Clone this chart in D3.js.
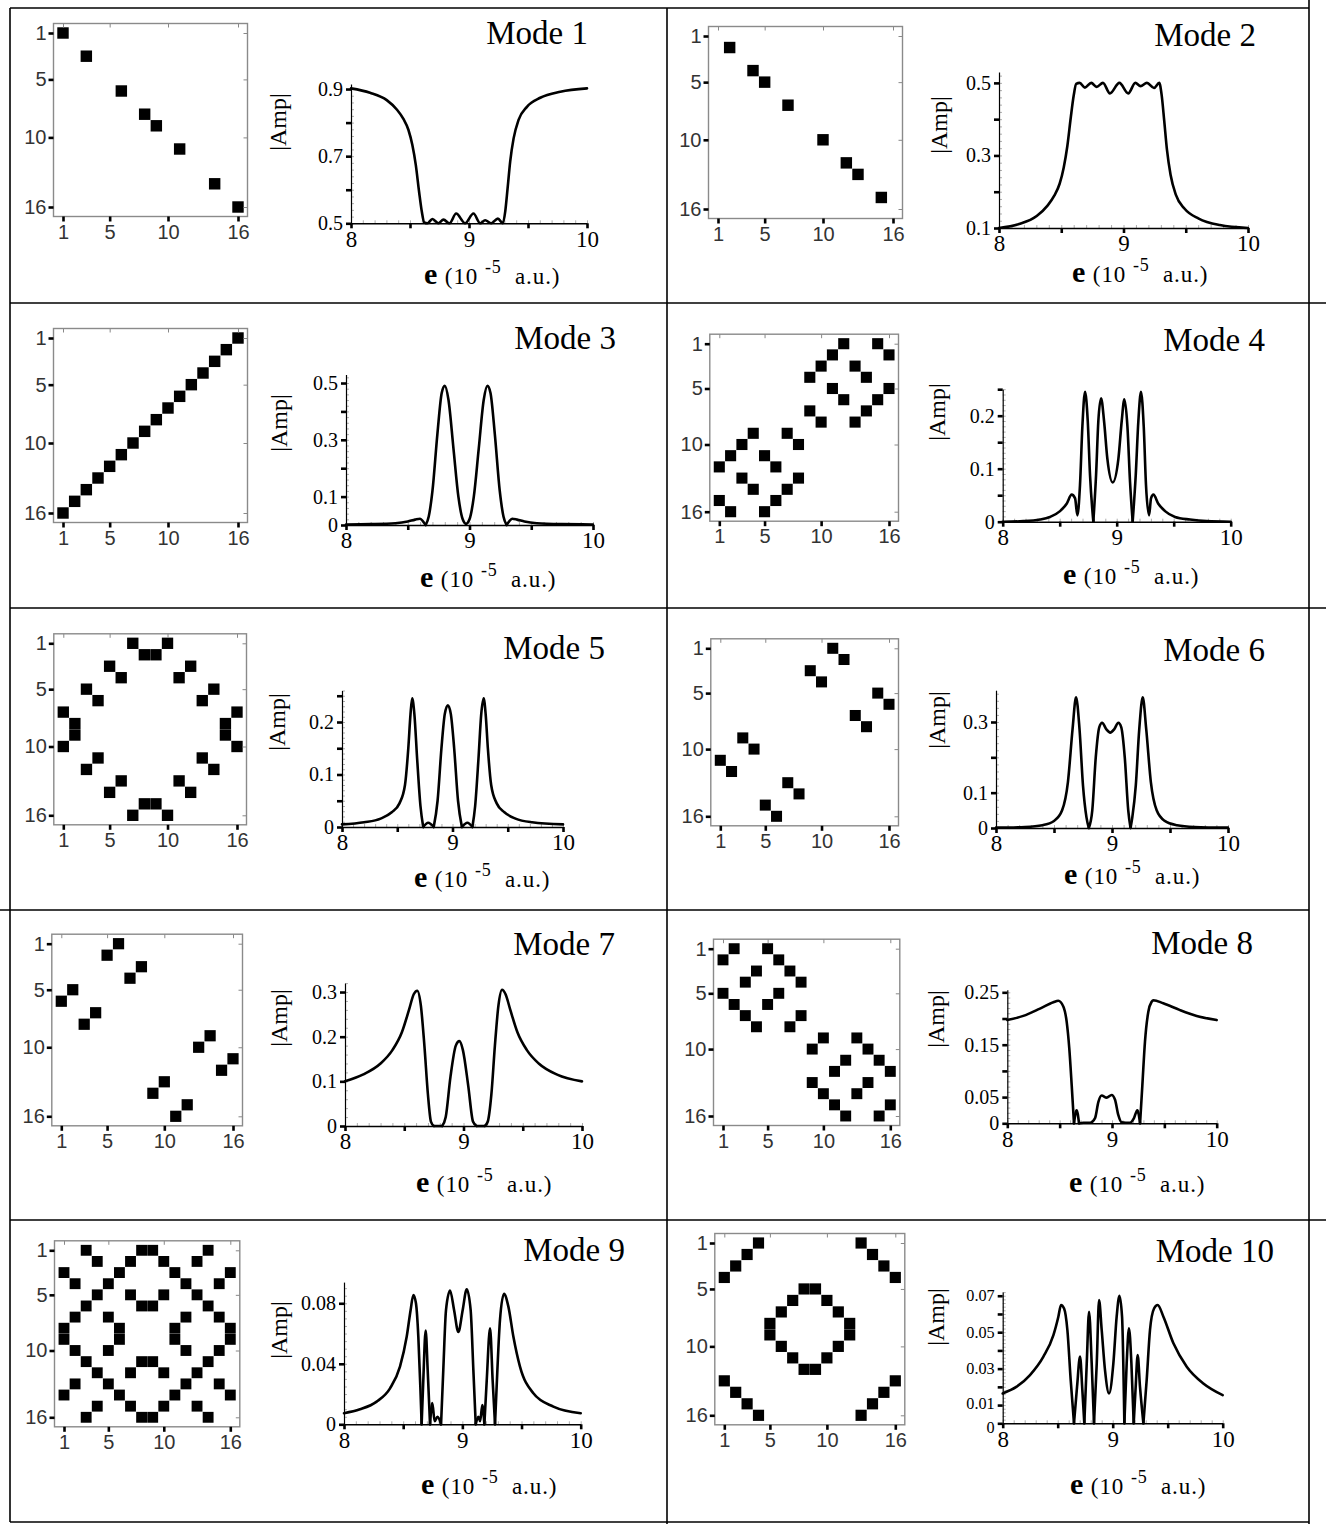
<!DOCTYPE html>
<html>
<head>
<meta charset="utf-8">
<script src="https://cdn.jsdelivr.net/npm/d3@7"></script>
<style>
    body { margin: 0; background: #fff; }
    svg { display: block; }
</style>
</head>
<body>
<script>
// ---- data: occupied sites [column, row] of each 16x16 pattern
var sites1 = [[1,1],[3,3],[6,6],[8,8],[9,9],[11,11],[14,14],[16,16]]
var sites2 = [[2,2],[4,4],[5,5],[7,7],[10,10],[12,12],[13,13],[15,15]]
var sites3 = [[1,16],[2,15],[3,14],[4,13],[5,12],[6,11],[7,10],[8,9],[9,8],[10,7],[11,6],[12,5],[13,4],[14,3],[15,2],[16,1]]
var sites4 = [[12,1],[15,1],[11,2],[16,2],[10,3],[13,3],[9,4],[14,4],[11,5],[16,5],[12,6],[15,6],[9,7],[14,7],[10,8],[13,8],
    [4,9],[7,9],[3,10],[8,10],[2,11],[5,11],[1,12],[6,12],[3,13],[8,13],[4,14],[7,14],[1,15],[6,15],[2,16],[5,16]]
var sites5 = [[7,1],[10,1],[8,2],[9,2],[5,3],[12,3],[6,4],[11,4],[3,5],[14,5],[4,6],[13,6],[1,7],[16,7],[2,8],[15,8],
    [2,9],[15,9],[1,10],[16,10],[4,11],[13,11],[3,12],[14,12],[6,13],[11,13],[5,14],[12,14],[8,15],[9,15],[7,16],[10,16]]
var sites6 = [[11,1],[12,2],[9,3],[10,4],[15,5],[16,6],[13,7],[14,8],[3,9],[4,10],[1,11],[2,12],[7,13],[8,14],[5,15],[6,16]]
var sites7 = [[6,1],[5,2],[8,3],[7,4],[2,5],[1,6],[4,7],[3,8],[14,9],[13,10],[16,11],[15,12],[10,13],[9,14],[12,15],[11,16]]
var sites8 = [[2,1],[5,1],[1,2],[6,2],[4,3],[7,3],[3,4],[8,4],[1,5],[6,5],[2,6],[5,6],[3,7],[8,7],[4,8],[7,8],
    [10,9],[13,9],[9,10],[14,10],[12,11],[15,11],[11,12],[16,12],[9,13],[14,13],[10,14],[13,14],[11,15],[16,15],[12,16],[15,16]]
var sites9 = [[3,1],[8,1],[9,1],[14,1],[4,2],[7,2],[10,2],[13,2],[1,3],[6,3],[11,3],[16,3],[2,4],[5,4],[12,4],[15,4],
    [4,5],[7,5],[10,5],[13,5],[3,6],[8,6],[9,6],[14,6],[2,7],[5,7],[12,7],[15,7],[1,8],[6,8],[11,8],[16,8],
    [1,9],[6,9],[11,9],[16,9],[2,10],[5,10],[12,10],[15,10],[3,11],[8,11],[9,11],[14,11],[4,12],[7,12],[10,12],[13,12],
    [2,13],[5,13],[12,13],[15,13],[1,14],[6,14],[11,14],[16,14],[4,15],[7,15],[10,15],[13,15],[3,16],[8,16],[9,16],[14,16]]
var sites10 = [[4,1],[3,2],[2,3],[1,4],[13,1],[14,2],[15,3],[16,4],[8,5],[9,5],[7,6],[10,6],[6,7],[11,7],[5,8],[12,8],
    [5,9],[12,9],[6,10],[11,10],[7,11],[10,11],[8,12],[9,12],[1,13],[2,14],[3,15],[4,16],[16,13],[15,14],[14,15],[13,16]]

var siteTicks = [1, 5, 10, 16]

// ---- data: |Amp| against e (10^-5 a.u.)
var curve1 = [[8.000,0.902],[8.161,0.889],[8.303,0.867],[8.388,0.839],[8.444,0.811],[8.487,0.778],[8.520,0.733],[8.549,0.674],
    [8.577,0.594],[8.600,0.535],[8.620,0.503],[8.648,0.500],[8.690,0.513],[8.741,0.500],[8.784,0.511],[8.835,0.500],[8.891,0.529],
    [8.967,0.500],[9.038,0.529],[9.095,0.500],[9.137,0.509],[9.188,0.500],[9.245,0.514],[9.287,0.500],[9.307,0.535],[9.327,0.604],
    [9.349,0.684],[9.378,0.753],[9.420,0.808],[9.491,0.847],[9.604,0.874],[9.774,0.892],[10.000,0.902]]
var curve2 = [[8.000,0.100],[8.161,0.111],[8.303,0.133],[8.388,0.161],[8.444,0.189],[8.487,0.222],[8.520,0.267],[8.549,0.326],
    [8.577,0.406],[8.600,0.465],[8.620,0.497],[8.648,0.500],[8.690,0.487],[8.741,0.500],[8.784,0.489],[8.835,0.500],[8.891,0.471],
    [8.967,0.500],[9.038,0.471],[9.095,0.500],[9.137,0.491],[9.188,0.500],[9.245,0.486],[9.287,0.500],[9.307,0.465],[9.327,0.396],
    [9.349,0.316],[9.378,0.247],[9.420,0.192],[9.491,0.153],[9.604,0.126],[9.774,0.108],[10.000,0.100]]
var curve3 = [[8.00,0.002],[8.20,0.003],[8.40,0.006],[8.50,0.012],[8.56,0.019],[8.60,0.022],[8.625,0.012],[8.645,0.000],
    [8.67,0.030],[8.70,0.120],[8.74,0.320],[8.775,0.465],[8.80,0.490],[8.83,0.440],[8.87,0.270],[8.91,0.100],[8.945,0.020],
    [8.972,0.004],[9.00,0.020],[9.035,0.100],[9.075,0.270],[9.115,0.440],[9.145,0.490],[9.17,0.465],[9.205,0.320],[9.245,0.120],
    [9.275,0.030],[9.30,0.000],[9.32,0.012],[9.345,0.022],[9.385,0.019],[9.445,0.012],[9.545,0.006],[9.745,0.003],[10.00,0.002]]
var curve4 = [[8.000,0.000],[8.181,0.001],[8.327,0.004],[8.415,0.009],[8.503,0.020],[8.561,0.034],[8.605,0.051],[8.635,0.044],
    [8.655,0.012],[8.678,0.069],[8.699,0.180],[8.722,0.245],[8.746,0.190],[8.766,0.088],[8.795,0.000],[8.819,0.088],[8.839,0.190],
    [8.863,0.233],[8.889,0.190],[8.918,0.119],[8.965,0.074],[9.015,0.119],[9.044,0.190],[9.067,0.231],[9.094,0.180],[9.117,0.075],
    [9.140,0.000],[9.167,0.088],[9.190,0.190],[9.213,0.245],[9.237,0.180],[9.257,0.069],[9.284,0.012],[9.301,0.044],[9.322,0.051],
    [9.365,0.034],[9.424,0.020],[9.512,0.009],[9.643,0.004],[9.789,0.001],[10.000,0.000]]
var curve5 = [[8.00,0.005],[8.20,0.009],[8.35,0.016],[8.45,0.028],[8.52,0.045],[8.57,0.080],[8.60,0.150],[8.62,0.215],
    [8.635,0.245],[8.655,0.215],[8.68,0.130],[8.71,0.040],[8.735,0.000],[8.78,0.008],[8.83,0.000],[8.865,0.050],[8.90,0.150],
    [8.93,0.215],[8.958,0.232],[8.985,0.215],[9.015,0.150],[9.05,0.050],[9.085,0.000],[9.135,0.008],[9.18,0.000],[9.205,0.040],
    [9.235,0.130],[9.26,0.215],[9.282,0.245],[9.30,0.215],[9.32,0.150],[9.35,0.080],[9.40,0.045],[9.47,0.028],[9.57,0.016],
    [9.72,0.009],[10.00,0.005]]
var curve6 = [[8.00,0.001],[8.25,0.003],[8.40,0.008],[8.50,0.020],[8.57,0.050],[8.62,0.130],[8.66,0.280],[8.69,0.370],
    [8.72,0.280],[8.75,0.120],[8.78,0.030],[8.80,0.000],[8.83,0.050],[8.86,0.200],[8.89,0.285],[8.915,0.298],[8.95,0.280],
    [8.985,0.270],[9.02,0.280],[9.055,0.298],[9.08,0.285],[9.11,0.200],[9.14,0.050],[9.16,0.000],[9.175,0.030],[9.205,0.120],
    [9.235,0.280],[9.265,0.370],[9.295,0.280],[9.335,0.130],[9.385,0.050],[9.455,0.020],[9.56,0.008],[9.71,0.003],[10.00,0.001]]
var curve7 = [[8.00,0.100],[8.15,0.115],[8.30,0.140],[8.40,0.170],[8.48,0.210],[8.54,0.260],[8.58,0.295],[8.61,0.303],
    [8.64,0.270],[8.67,0.180],[8.70,0.070],[8.725,0.010],[8.75,0.000],[8.82,0.000],[8.85,0.020],[8.89,0.110],[8.935,0.180],
    [8.965,0.190],[8.995,0.170],[9.04,0.090],[9.08,0.010],[9.11,0.000],[9.18,0.000],[9.205,0.010],[9.235,0.070],[9.265,0.180],
    [9.295,0.270],[9.325,0.305],[9.355,0.295],[9.395,0.260],[9.455,0.210],[9.535,0.170],[9.635,0.140],[9.79,0.115],[10.00,0.100]]
var curve8 = [[8.000,0.197],[8.153,0.205],[8.312,0.219],[8.440,0.231],[8.487,0.234],[8.535,0.223],[8.567,0.194],[8.592,0.143],
    [8.615,0.073],[8.637,0.000],[8.662,0.025],[8.685,0.000],[8.726,0.001],[8.790,0.001],[8.838,0.010],[8.870,0.041],[8.901,0.053],
    [8.949,0.049],[8.997,0.054],[9.029,0.045],[9.060,0.016],[9.092,0.002],[9.172,0.001],[9.210,0.010],[9.242,0.025],[9.268,0.000],
    [9.290,0.073],[9.315,0.156],[9.347,0.213],[9.379,0.232],[9.395,0.235],[9.490,0.229],[9.650,0.216],[9.809,0.205],[10.000,0.197]]
var curve9 = [[8.000,0.0073],[8.135,0.0099],[8.276,0.0150],[8.389,0.0238],[8.473,0.0381],[8.530,0.0580],[8.563,0.0756],
    [8.586,0.0855],[8.608,0.0800],[8.628,0.0580],[8.645,0.0249],[8.656,0.0000],[8.670,0.0290],[8.690,0.0620],[8.707,0.0360],
    [8.727,0.0000],[8.746,0.0140],[8.766,0.0020],[8.790,0.0050],[8.820,0.0000],[8.839,0.0360],[8.862,0.0756],[8.896,0.0884],
    [8.930,0.0756],[8.966,0.0610],[9.003,0.0756],[9.037,0.0893],[9.070,0.0756],[9.093,0.0360],[9.113,0.0000],[9.135,0.0050],
    [9.150,0.0020],[9.169,0.0128],[9.186,0.0000],[9.206,0.0290],[9.234,0.0635],[9.256,0.0290],[9.276,0.0000],[9.296,0.0360],
    [9.318,0.0690],[9.352,0.0862],[9.389,0.0778],[9.431,0.0580],[9.487,0.0381],[9.600,0.0205],[9.769,0.0117],[10.000,0.0073]]
var curve10 = [[8.000,0.0164],[8.127,0.0201],[8.248,0.0265],[8.370,0.0366],[8.461,0.0484],[8.506,0.0585],[8.530,0.0649],
    [8.558,0.0630],[8.588,0.0512],[8.618,0.0238],[8.648,0.0000],[8.676,0.0201],[8.703,0.0366],[8.724,0.0183],[8.742,0.0000],
    [8.764,0.0329],[8.785,0.0612],[8.809,0.0329],[8.830,0.0000],[8.855,0.0329],[8.876,0.0676],[8.900,0.0512],[8.930,0.0292],
    [8.967,0.0164],[9.006,0.0329],[9.036,0.0585],[9.061,0.0700],[9.085,0.0585],[9.106,0.0000],[9.127,0.0329],[9.148,0.0521],
    [9.170,0.0329],[9.191,0.0000],[9.209,0.0201],[9.227,0.0375],[9.248,0.0201],[9.279,0.0000],[9.309,0.0238],[9.339,0.0512],
    [9.376,0.0630],[9.409,0.0649],[9.461,0.0585],[9.552,0.0439],[9.673,0.0311],[9.824,0.0219],[10.000,0.0155]]

// ---- data: axis ranges and tick labels
var eTicks = [8, 9, 10]
var ampRanges = [[0.5,0.915],[0.1,0.53],[0,0.53],[0,0.25],[0,0.26],[0,0.39],[0,0.32],[0,0.255],[0,0.094],[0,0.072]]
var ampTicks = [[0.5,0.7,0.9],[0.1,0.3,0.5],[0,0.1,0.3,0.5],[0,0.1,0.2],[0,0.1,0.2],[0,0.1,0.3],[0,0.1,0.2,0.3],
    [0,0.05,0.15,0.25],[0,0.04,0.08],[0,0.01,0.03,0.05,0.07]]
var modeNames = ['Mode 1','Mode 2','Mode 3','Mode 4','Mode 5','Mode 6','Mode 7','Mode 8','Mode 9','Mode 10']
var allSites = [sites1, sites2, sites3, sites4, sites5, sites6, sites7, sites8, sites9, sites10]
var allCurves = [curve1, curve2, curve3, curve4, curve5, curve6, curve7, curve8, curve9, curve10]

// ---- layout of each cell (pixel placement, read off the scanned table)
// mat: centres of column 1, column 16, row 1, row 16; plot: px of e=8, e=10, amp min, amp max
var layout = [
    {mat: [63, 238, 33, 207], plot: [351, 587, 223.3, 84], major: 0.1, minor: 0.02, mode: [588, 43.5], amp: [286, 122], e: [424, 284]},
    {mat: [718, 893, 36, 209], plot: [999, 1248, 228, 72], major: 0.1, minor: 0.02, mode: [1256, 46], amp: [947, 125], e: [1072, 282]},
    {mat: [63, 238, 338, 513], plot: [346, 593, 525, 374.5], major: 0.1, minor: 0.02, mode: [616, 349], amp: [287, 423], e: [420, 587]},
    {mat: [719.3, 889, 343.7, 511.7], plot: [1002.7, 1230.7, 521.7, 389.2], major: 0.05, minor: 0.01, mode: [1265, 351], amp: [945, 412], e: [1063, 584]},
    {mat: [63.3, 237, 643.3, 815.3], plot: [342, 563, 827, 690.5], major: 0.05, minor: 0.01, mode: [605, 659], amp: [285, 722], e: [414, 887]},
    {mat: [720.3, 889, 648.3, 816.3], plot: [996, 1228, 828, 690.2], major: 0.1, minor: 0.02, mode: [1265, 661], amp: [945, 720], e: [1064, 884]},
    {mat: [61.3, 233, 943.7, 1116.3], plot: [345, 582, 1126, 983.1], major: 0.1, minor: 0.02, mode: [615, 955], amp: [287, 1018], e: [416, 1192]},
    {mat: [723, 890.3, 948.7, 1116], plot: [1007.3, 1216.7, 1123.3, 989.7], major: 0.05, minor: 0.01, mode: [1253, 954], amp: [944, 1019], e: [1069, 1192]},
    {mat: [64, 230.3, 1250.3, 1417.3], plot: [344, 580.7, 1424.3, 1282.1], major: 0.04, minor: 0.005, mode: [625, 1261], amp: [287, 1330], e: [421, 1494]},
    {mat: [724.3, 895.3, 1243, 1415.3], plot: [1002.7, 1222.7, 1423.3, 1292.1], major: 0.01, minor: 0.002, mode: [1274, 1262], amp: [944, 1317], e: [1070, 1494]}
]

var serif = '"Liberation Serif", "Times New Roman", Times, serif'
var sans = '"Liberation Sans", Arial, Helvetica, sans-serif'

var svg = d3.select('body').append('svg').attr('width', 1326).attr('height', 1524)
svg.append('rect').attr('width', 1326).attr('height', 1524).attr('fill', '#fff')

// table rules
var rules = [[10, 8, 1309, 8], [10, 303, 1326, 303], [10, 608, 1326, 608], [0, 910, 1309, 910], [10, 1220, 1326, 1220],
    [10, 1522, 1309, 1522], [10, 8, 10, 1522], [667, 8, 667, 1524], [1309, 0, 1309, 1524]]
svg.append('g').selectAll('line').data(rules).enter().append('line')
    .attr('x1', function (d) { return d[0] }).attr('y1', function (d) { return d[1] })
    .attr('x2', function (d) { return d[2] }).attr('y2', function (d) { return d[3] })
    .attr('stroke', '#000').attr('stroke-width', 1.6)

function steps(lo, hi, st) {
    var n = Math.floor((hi - lo) / st + 1e-6)
    return d3.range(n + 1).map(function (k) { return +(lo + k * st).toFixed(5) })
}

function hasTick(list, v) {
    return list.some(function (t) { return Math.abs(t - v) < 1e-6 })
}

// split at exact zeros so |Amp| keeps its sharp V there
function splitAtZeros(pts) {
    var segs = [[]]
    pts.forEach(function (p, i) {
        segs[segs.length - 1].push(p)
        if (p[1] === 0 && i > 0 && i < pts.length - 1) segs.push([p])
    })
    return segs
}

function styleAxis(g, font, size, width) {
    g.attr('font-family', font).attr('font-size', size).attr('color', '#000')
    g.selectAll('.tick line').attr('stroke-width', width)
}

function drawPanel(i) {
    var L = layout[i]
    var g = svg.append('g')

    // ---- 16x16 pattern
    var m = L.mat
    var mx = d3.scaleLinear().domain([1, 16]).range([m[0], m[1]])
    var my = d3.scaleLinear().domain([1, 16]).range([m[2], m[3]])
    var pad = 9.5
    var fx0 = m[0] - pad, fx1 = m[1] + pad, fy0 = m[2] - pad, fy1 = m[3] + pad
    var cell = (m[1] - m[0]) / 15 * 0.98

    g.append('g').selectAll('rect').data(allSites[i]).enter().append('rect')
        .attr('x', function (d) { return mx(d[0]) - cell / 2 })
        .attr('y', function (d) { return my(d[1]) - cell / 2 })
        .attr('width', cell).attr('height', cell).attr('fill', '#000')

    var mTop = g.append('g').attr('transform', 'translate(0,' + fy0 + ')')
        .call(d3.axisTop(mx).tickValues(siteTicks).tickSize(-4).tickFormat('').tickSizeOuter(0))
    mTop.select('.domain').remove()
    mTop.selectAll('line').attr('stroke', '#888')
    var mRight = g.append('g').attr('transform', 'translate(' + fx1 + ',0)')
        .call(d3.axisRight(my).tickValues(siteTicks).tickSize(-4).tickFormat('').tickSizeOuter(0))
    mRight.select('.domain').remove()
    mRight.selectAll('line').attr('stroke', '#888')

    g.append('rect').attr('x', fx0).attr('y', fy0).attr('width', fx1 - fx0).attr('height', fy1 - fy0)
        .attr('fill', 'none').attr('stroke', '#8a8a8a').attr('stroke-width', 1.4)

    var mLeft = g.append('g').attr('transform', 'translate(' + fx0 + ',0)')
        .call(d3.axisLeft(my).tickValues(siteTicks).tickSize(5).tickPadding(2).tickSizeOuter(0))
    mLeft.select('.domain').remove()
    styleAxis(mLeft, sans, 20, 2.6)
    mLeft.selectAll('text').attr('fill', '#333')
    var mBottom = g.append('g').attr('transform', 'translate(0,' + fy1 + ')')
        .call(d3.axisBottom(mx).tickValues(siteTicks).tickSize(5).tickPadding(3).tickSizeOuter(0))
    mBottom.select('.domain').remove()
    styleAxis(mBottom, sans, 20, 2.6)
    mBottom.selectAll('text').attr('fill', '#333')

    // ---- |Amp| curve
    var P = L.plot
    var range = ampRanges[i]
    var ex = d3.scaleLinear().domain([8, 10]).range([P[0], P[1]])
    var ay = d3.scaleLinear().domain(range).range([P[2], P[3]])
    var labels = ampTicks[i]

    var yMinor = g.append('g').attr('transform', 'translate(' + P[0] + ',0)')
        .call(d3.axisRight(ay).tickValues(steps(range[0], range[1], L.minor)).tickSize(3).tickFormat('').tickSizeOuter(0))
    yMinor.select('.domain').remove()
    yMinor.selectAll('line').attr('stroke', '#999').attr('stroke-width', 0.8)

    var xMinor = g.append('g').attr('transform', 'translate(0,' + P[2] + ')')
        .call(d3.axisTop(ex).tickValues(steps(8, 10, 0.1)).tickSize(3).tickFormat('').tickSizeOuter(0))
    xMinor.select('.domain').remove()
    xMinor.selectAll('line').attr('stroke', '#999').attr('stroke-width', 0.8)

    var yFont = 20
    var yAxis = g.append('g').attr('transform', 'translate(' + P[0] + ',0)')
        .call(d3.axisLeft(ay).tickValues(steps(range[0], range[1], L.major))
            .tickFormat(function (d) { return hasTick(labels, d) ? String(d) : '' })
            .tickSize(5).tickPadding(3).tickSizeOuter(0))
    styleAxis(yAxis, serif, yFont, 2.6)
    yAxis.select('.domain').attr('stroke-width', 1.2)
    // labels packed closer than their line height: shrink them a little and ease them apart
    var gap = Math.abs(ay(labels[1]) - ay(labels[0]))
    if (gap < yFont * 1.1) {
        var fs = Math.max(16, gap - 2)
        yAxis.attr('font-size', fs)
        yAxis.selectAll('.tick text').filter(function (d) { return d === range[0] })
            .attr('dy', '0.55em')
        yAxis.selectAll('.tick text').filter(function (d) { return Math.abs(d - labels[1]) < 1e-6 })
            .attr('dy', '0.2em')
    }

    var xAxis = g.append('g').attr('transform', 'translate(0,' + P[2] + ')')
        .call(d3.axisBottom(ex).tickValues(steps(8, 10, 0.5))
            .tickFormat(function (d) { return hasTick(eTicks, d) ? String(d) : '' })
            .tickSize(5).tickPadding(2).tickSizeOuter(0))
    styleAxis(xAxis, serif, 23, 2.6)
    xAxis.select('.domain').attr('stroke-width', 1.4)

    var line = d3.line()
        .x(function (d) { return ex(d[0]) })
        .y(function (d) { return ay(d[1]) })
        .curve(d3.curveMonotoneX)
    g.append('g').selectAll('path').data(splitAtZeros(allCurves[i])).enter().append('path')
        .attr('d', line).attr('fill', 'none').attr('stroke', '#000')
        .attr('stroke-width', 2.6).attr('stroke-linejoin', 'round').attr('stroke-linecap', 'round')

    // ---- texts
    g.append('text').attr('x', L.mode[0]).attr('y', L.mode[1])
        .attr('text-anchor', 'end').attr('font-family', serif).attr('font-size', 33)
        .text(modeNames[i])

    g.append('text').attr('transform', 'translate(' + L.amp[0] + ',' + L.amp[1] + ') rotate(-90)')
        .attr('text-anchor', 'middle').attr('font-family', serif).attr('font-size', 24)
        .text('|Amp|')

    var t = g.append('text').attr('x', L.e[0]).attr('y', L.e[1])
        .attr('font-family', serif).attr('font-size', 23).attr('letter-spacing', 0.9)
        .attr('xml:space', 'preserve')
    t.append('tspan').attr('font-weight', 'bold').attr('font-size', 30).text('e')
    t.append('tspan').text(' (10 ')
    t.append('tspan').attr('font-size', 18).attr('dy', -11).text('-5')
    t.append('tspan').attr('dy', 11).text('  a.u.)')
}

for (var i = 0; i < layout.length; i++) drawPanel(i)
</script>
</body>
</html>
